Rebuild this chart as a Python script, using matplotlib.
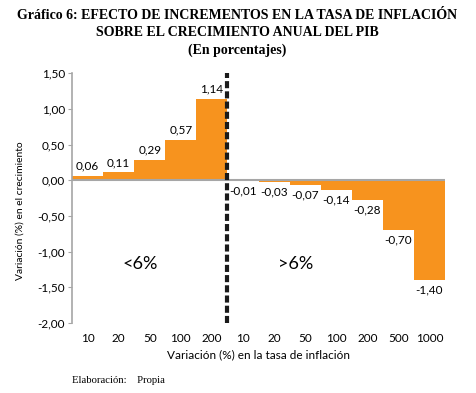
import numpy as np
import matplotlib
matplotlib.use('Agg')
import matplotlib.pyplot as plt

# datos del grafico
etiquetas = ['10', '20', '50', '100', '200', '10', '20', '50', '100', '200', '500', '1000']
valores = [0.06, 0.11, 0.29, 0.57, 1.14, -0.01, -0.03, -0.07, -0.14, -0.28, -0.70, -1.40]
yticks = [1.5, 1.0, 0.5, 0.0, -0.5, -1.0, -1.5, -2.0]

naranja = '#F7931E'
gris = '#A6A6A6'
fuente = 'Lato'

fig = plt.figure(figsize=(4.77, 3.93), dpi=100)
ax = fig.add_axes((0.151, 0.178, 0.782, 0.636))

x = np.arange(len(valores))
ax.bar(x, valores, width=1.0, color=naranja, zorder=2)
ax.axhline(0, color=gris, linewidth=1.5, zorder=3)
ax.axvline(4.5, color='#1a1a1a', linewidth=3, linestyle=(0, (1.7, 0.75)), zorder=4)

for xi, v in zip(x, valores):
    txt = f'{v:.2f}'.replace('.', ',')
    if v >= 0:
        ax.annotate(txt, (xi, v), xytext=(0, 3), textcoords='offset points',
                    ha='center', va='bottom', fontsize=8.5, family=fuente)
    else:
        ax.annotate(txt, (xi, v), xytext=(0, -3), textcoords='offset points',
                    ha='center', va='top', fontsize=8.5, family=fuente)

ax.text(1.7, -1.17, '<6%', fontsize=13, family=fuente, ha='center', va='center')
ax.text(6.7, -1.17, '>6%', fontsize=13, family=fuente, ha='center', va='center')

ax.set_xlim(-0.5, 11.5)
ax.set_ylim(-2.0, 1.5)
ax.set_yticks(yticks)
ax.set_yticklabels([f'{t:.2f}'.replace('.', ',') for t in yticks], family=fuente, fontsize=8.5)
ax.set_xticks(x)
ax.set_xticklabels(etiquetas, family=fuente, fontsize=8.5)
ax.tick_params(axis='x', length=0, pad=7)
ax.tick_params(axis='y', length=3, color=gris, pad=2)
for s in ['top', 'right', 'bottom']:
    ax.spines[s].set_visible(False)
ax.spines['left'].set_color(gris)
ax.spines['left'].set_linewidth(1.2)

ax.set_xlabel('Variación (%) en la tasa de inflación', family=fuente, fontsize=8.5, labelpad=4)
ax.set_ylabel('Variación (%) en el crecimiento', family=fuente, fontsize=7.4)
ax.yaxis.set_label_coords(-0.126, 0.45)

fig.text(0.497, 0.978, 'Gráfico 6: EFECTO DE INCREMENTOS EN LA TASA DE INFLACIÓN\n'
         'SOBRE EL CRECIMIENTO ANUAL DEL PIB\n(En porcentajes)',
         family='Liberation Serif', fontweight='bold', fontsize=10, ha='center', va='top',
         linespacing=1.45)
fig.text(0.151, 0.033, 'Elaboración:    Propia', family='Liberation Serif', fontsize=7.7,
         ha='left', va='center')

plt.savefig('out.png', dpi=100)
